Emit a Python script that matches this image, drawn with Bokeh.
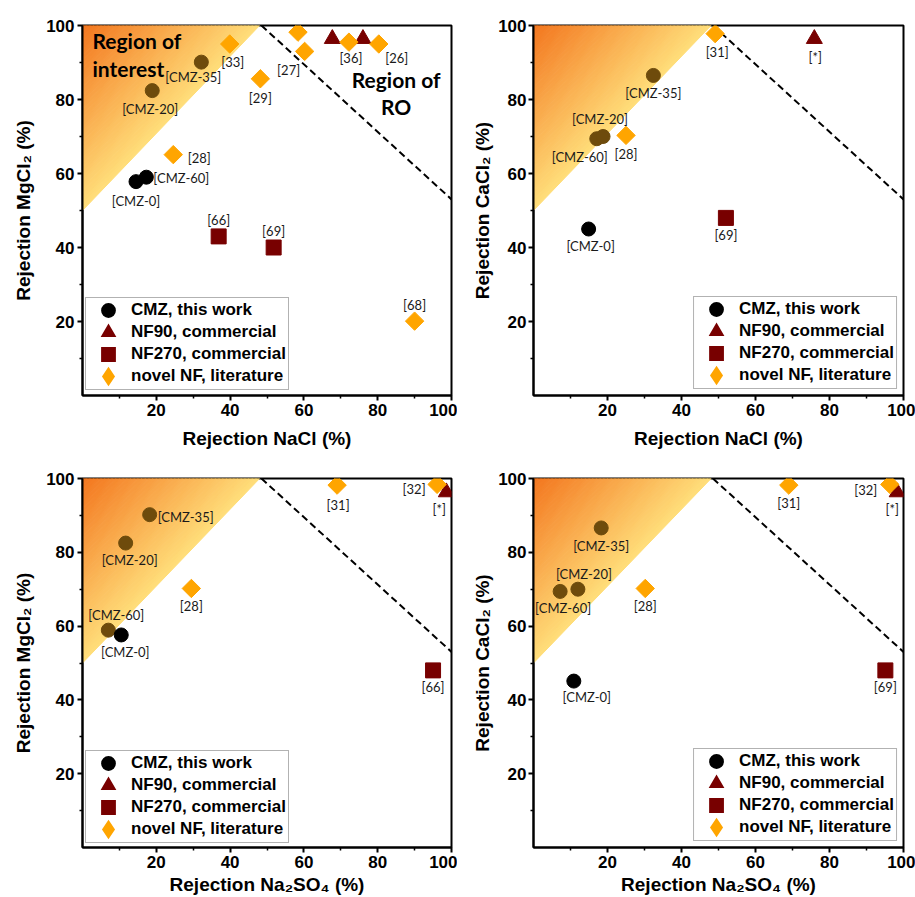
import numpy as np
from bokeh.plotting import figure
from bokeh.models import (ColumnDataSource, FixedTicker, Legend, LegendItem,
                          Label, LabelSet)
from bokeh.layouts import column, row
from bokeh.embed import file_html
from bokeh.resources import INLINE
from bokeh.core.properties import value

# ---------------- data ----------------
# Panel a: NaCl (x) vs MgCl2 (y)
a_cmz_x = [14.5, 17.3, 18.9, 32.2]
a_cmz_y = [57.8, 59.0, 82.4, 90.1]
a_cmz_lab = ["[CMZ-0]", "[CMZ-60]", "[CMZ-20]", "[CMZ-35]"]
a_nf90_x = [67.7, 76.0]
a_nf90_y = [96.4, 96.4]
a_nf90_lab = ["[66]", "[*]"]
a_nf270_x = [36.9, 51.8]
a_nf270_y = [43.0, 40.0]
a_nf270_lab = ["[66]", "[69]"]
a_nov_x = [39.9, 48.2, 58.4, 60.2, 72.2, 80.3, 24.6, 90.0]
a_nov_y = [95.0, 85.6, 98.2, 93.0, 95.5, 95.0, 65.1, 20.1]
a_nov_lab = ["[33]", "[29]", "[66]", "[27]", "[36]", "[26]", "[28]", "[68]"]

# Panel b: NaCl (x) vs CaCl2 (y)
b_cmz_x = [14.9, 17.1, 18.8, 32.4]
b_cmz_y = [45.0, 69.4, 70.0, 86.5]
b_cmz_lab = ["[CMZ-0]", "[CMZ-60]", "[CMZ-20]", "[CMZ-35]"]
b_nf90_x = [75.9]
b_nf90_y = [96.4]
b_nf90_lab = ["[*]"]
b_nf270_x = [52.0]
b_nf270_y = [48.0]
b_nf270_lab = ["[69]"]
b_nov_x = [49.1, 25.0]
b_nov_y = [97.8, 70.3]
b_nov_lab = ["[31]", "[28]"]

# Panel c: Na2SO4 (x) vs MgCl2 (y)
c_cmz_x = [7.0, 10.5, 11.7, 18.2]
c_cmz_y = [58.9, 57.6, 82.5, 90.2]
c_cmz_lab = ["[CMZ-60]", "[CMZ-0]", "[CMZ-20]", "[CMZ-35]"]
c_nf90_x = [98.6]
c_nf90_y = [96.3]
c_nf90_lab = ["[*]"]
c_nf270_x = [95.0]
c_nf270_y = [48.0]
c_nf270_lab = ["[66]"]
c_nov_x = [29.5, 69.0, 96.1]
c_nov_y = [70.2, 98.2, 98.4]
c_nov_lab = ["[28]", "[31]", "[32]"]

# Panel d: Na2SO4 (x) vs CaCl2 (y)
d_cmz_x = [10.9, 7.2, 12.0, 18.3]
d_cmz_y = [45.1, 69.4, 70.0, 86.6]
d_cmz_lab = ["[CMZ-0]", "[CMZ-60]", "[CMZ-20]", "[CMZ-35]"]
d_nf90_x = [98.3]
d_nf90_y = [96.3]
d_nf90_lab = ["[*]"]
d_nf270_x = [95.1]
d_nf270_y = [48.0]
d_nf270_lab = ["[69]"]
d_nov_x = [30.2, 69.0, 96.3]
d_nov_y = [70.2, 98.2, 98.4]
d_nov_lab = ["[28]", "[31]", "[32]"]

# Region boundaries (same in every panel)
roi_x = [0, 0, 48]        # bottom vertex, corner, right vertex
roi_y = [50, 100, 100]
ro_x = [48.5, 100]
ro_y = [100, 53]

major_ticks = [20, 40, 60, 80, 100]
minor_ticks = [10, 30, 50, 70, 90]

series_names = ["CMZ, this work", "NF90, commercial", "NF270, commercial",
                "novel NF, literature"]

# ---------------- styles ----------------
DARKRED = "#780000"
ORANGE = "#FFA500"
BROWN = "#6E4B0C"
EDGE_COL = (255, 222, 122)
CORNER_COL = (243, 118, 30)
AX_FONT = "Liberation Sans"
LAB_FONT = "Lato"

# label offsets (dx right, dy down) in px
a_off = {"cmz": [(0, 19), (35, 1), (-2, 18), (-8, 15)],
         "nf90": [(6, -23), (0, -23)],
         "nf270": [(0, -16), (0, -17)],
         "nov": [(3, 18), (0, 19), (0, -17), (-16, 19), (2, 16), (18, 14), (26, 3), (0, -16)]}
b_off = {"cmz": [(2, 17), (-17, 18), (-3, -18), (0, 18)],
         "nf90": [(1, 18)], "nf270": [(0, 17)],
         "nov": [(2, 18), (0, 19)]}
c_off = {"cmz": [(8, -15), (4, 17), (4, 17), (36, 2)],
         "nf90": [(-7, 17)], "nf270": [(0, 17)],
         "nov": [(0, 18), (1, 20), (-23, 5)]}
d_off = {"cmz": [(13, 16), (3, 17), (6, -15), (0, 18)],
         "nf90": [(-5, 17)], "nf270": [(0, 17)],
         "nov": [(0, 18), (0, 18), (-24, 6)]}


def inside_roi(x, y):
    ax, ay = roi_x[0], roi_y[0]
    bx, by = roi_x[2], roi_y[2]
    return (y - ay) * (bx - ax) - (x - ax) * (by - ay) > 0


def roi_bands(n=48):
    A = np.array([roi_x[0], roi_y[0]], float)
    C = np.array([roi_x[1], roi_y[1]], float)
    B = np.array([roi_x[2], roi_y[2]], float)
    xs, ys, cols = [], [], []
    for i in range(n):
        t0, t1 = i / n, (i + 1) / n
        pa0, pb0 = A + t0 * (C - A), B + t0 * (C - B)
        pa1, pb1 = A + t1 * (C - A), B + t1 * (C - B)
        xs.append([pa0[0], pb0[0], pb1[0], pa1[0]])
        ys.append([pa0[1], pb0[1], pb1[1], pa1[1]])
        tm = (t0 + t1) / 2
        rgb = [int(round(e + (c - e) * tm)) for e, c in zip(EDGE_COL, CORNER_COL)]
        cols.append("#%02x%02x%02x" % tuple(rgb))
    return xs, ys, cols


def add_labels(p, xs, ys, labs, offs):
    src = ColumnDataSource(dict(x=xs, y=ys, t=labs,
                                dx=[o[0] for o in offs],
                                dy=[-o[1] for o in offs]))
    p.add_layout(LabelSet(x="x", y="y", text="t", source=src,
                          x_offset="dx", y_offset="dy",
                          text_align="center", text_baseline="middle",
                          text_font=value(LAB_FONT), text_font_size="13px",
                          text_color="#1a1a1a"))


def make_panel(letter, letter_pos, xlabel, ylabel, cmz, nf90, nf270, nov, offs,
               borders, frame, legend_loc, xlab_standoff, ylab_standoff,
               ytick_standoff, regions_text=False):
    bl, br, bt, bb = borders
    fw, fh = frame
    p = figure(frame_width=fw, frame_height=fh, x_range=(0, 100), y_range=(0, 100),
               output_backend="svg", toolbar_location=None,
               min_border_left=bl, min_border_right=br,
               min_border_top=bt, min_border_bottom=bb,
               background_fill_color="white", border_fill_color="white")
    p.grid.visible = False
    p.outline_line_color = "black"
    p.outline_line_width = 2
    p.outline_line_alpha = 1

    for ax in (p.xaxis[0], p.yaxis[0]):
        ax.ticker = FixedTicker(ticks=major_ticks, minor_ticks=minor_ticks)
        ax.major_tick_out = 5
        ax.major_tick_in = 0
        ax.minor_tick_out = 3
        ax.minor_tick_in = 0
        ax.axis_line_width = 2
        ax.major_tick_line_width = 2
        ax.minor_tick_line_width = 1.5
        ax.major_label_text_font = AX_FONT
        ax.major_label_text_font_style = "bold"
        ax.major_label_text_font_size = "17px"
        ax.major_label_text_color = "black"
        ax.axis_label_text_font = AX_FONT
        ax.axis_label_text_font_style = "bold"
        ax.axis_label_text_font_size = "19px"
        ax.axis_label_text_color = "black"
    p.xaxis.axis_label = xlabel
    p.yaxis.axis_label = ylabel
    p.xaxis.major_label_standoff = 3
    p.yaxis.major_label_standoff = ytick_standoff
    p.xaxis.axis_label_standoff = xlab_standoff
    p.yaxis.axis_label_standoff = ylab_standoff

    # region of interest gradient
    bx, by, bc = roi_bands()
    p.patches(bx, by, fill_color=bc, line_color=bc, line_width=1)
    # RO boundary
    p.line(ro_x, ro_y, line_color="black", line_width=2, line_dash="7 4")

    # data series
    cx, cy, cl = cmz
    ccol = [BROWN if inside_roi(x, y) else "black" for x, y in zip(cx, cy)]
    p.scatter(x="x", y="y", source=ColumnDataSource(dict(x=cx, y=cy, c=ccol)),
              marker="circle", size=14, fill_color="c", line_color="c")
    p.scatter(nf270[0], nf270[1], marker="square", size=15,
              fill_color=DARKRED, line_color=DARKRED)
    p.scatter(nf90[0], nf90[1], marker="triangle", size=16,
              fill_color=DARKRED, line_color=DARKRED)
    p.scatter(nov[0], nov[1], marker="square", angle=np.pi / 4, size=13,
              fill_color=ORANGE, line_color=ORANGE)

    add_labels(p, cx, cy, cl, offs["cmz"])
    add_labels(p, nf90[0], nf90[1], nf90[2], offs["nf90"])
    add_labels(p, nf270[0], nf270[1], nf270[2], offs["nf270"])
    add_labels(p, nov[0], nov[1], nov[2], offs["nov"])

    # legend symbols: renderers whose single point is undefined (never drawn)
    nan = np.array([np.nan])
    r1 = p.scatter(nan, nan, marker="circle", fill_color="black",
                   line_color="black", line_width=6)
    r2 = p.scatter(nan, nan, marker="triangle", fill_color=DARKRED,
                   line_color=DARKRED, line_width=4, line_join="miter")
    r3 = p.scatter(nan, nan, marker="square", fill_color=DARKRED,
                   line_color=DARKRED, line_width=6, line_join="miter")
    r4 = p.scatter(nan, nan, marker="diamond", fill_color=ORANGE,
                   line_color=ORANGE, line_width=6, line_join="miter")
    leg = Legend(items=[LegendItem(label=n, renderers=[r], index=0)
                        for n, r in zip(series_names, [r1, r2, r3, r4])],
                 location=legend_loc, margin=6,
                 glyph_width=40, glyph_height=22, spacing=0,
                 padding=(2, 2, 1, 2), label_standoff=3, label_height=20,
                 label_text_font=AX_FONT, label_text_font_style="bold",
                 label_text_font_size="17px", label_text_color="black",
                 border_line_color="#666666", border_line_width=1,
                 background_fill_color="white", background_fill_alpha=1)
    p.add_layout(leg)

    if regions_text:
        for t, x, y, al in [("Region of", 2.7, 95.9, "left"),
                            ("interest", 2.7, 88.4, "left"),
                            ("Region of", 85.0, 85.4, "center"),
                            ("RO", 85.0, 78.0, "center")]:
            p.add_layout(Label(x=x, y=y, text=t, text_align=al,
                               text_baseline="alphabetic", text_font=LAB_FONT,
                               text_font_style="bold", text_font_size="21px",
                               text_color="black"))

    p.add_layout(Label(x=letter_pos[0], y=letter_pos[1], x_units="screen",
                       y_units="screen", text=letter, text_align="center",
                       text_baseline="middle", text_font=AX_FONT,
                       text_font_style="bold", text_font_size="20px",
                       text_color="black"))
    return p


YL_MG = "Rejection MgCl\u2082 (%)"
YL_CA = "Rejection CaCl\u2082 (%)"
XL_NA = "Rejection NaCl (%)"
XL_SO = "Rejection Na\u2082SO\u2084 (%)"

pa = make_panel("a)", (-64, 368), XL_NA, YL_MG,
                (a_cmz_x, a_cmz_y, a_cmz_lab), (a_nf90_x, a_nf90_y, a_nf90_lab),
                (a_nf270_x, a_nf270_y, a_nf270_lab), (a_nov_x, a_nov_y, a_nov_lab),
                a_off, (82, 6, 25, 56), (369, 370), (3, 5), 9, 9, 3,
                regions_text=True)
pb = make_panel("b)", (-57, 369), XL_NA, YL_CA,
                (b_cmz_x, b_cmz_y, b_cmz_lab), (b_nf90_x, b_nf90_y, b_nf90_lab),
                (b_nf270_x, b_nf270_y, b_nf270_lab), (b_nov_x, b_nov_y, b_nov_lab),
                b_off, (76, 12, 25, 56), (370, 370), "bottom_right", 9, 2, 2)
pc = make_panel("c)", (-63, 366), XL_SO, YL_MG,
                (c_cmz_x, c_cmz_y, c_cmz_lab), (c_nf90_x, c_nf90_y, c_nf90_lab),
                (c_nf270_x, c_nf270_y, c_nf270_lab), (c_nov_x, c_nov_y, c_nov_lab),
                c_off, (82, 6, 27, 50), (369, 369), (3, 4), 3, 9, 3)
pd_ = make_panel("d)", (-55, 366), XL_SO, YL_CA,
                 (d_cmz_x, d_cmz_y, d_cmz_lab), (d_nf90_x, d_nf90_y, d_nf90_lab),
                 (d_nf270_x, d_nf270_y, d_nf270_lab), (d_nov_x, d_nov_y, d_nov_lab),
                 d_off, (76, 12, 27, 50), (370, 369), "bottom_right", 3, 2, 2)

layout = column(row(pa, pb), row(pc, pd_))

open("out.html", "w").write(file_html(layout, INLINE))
